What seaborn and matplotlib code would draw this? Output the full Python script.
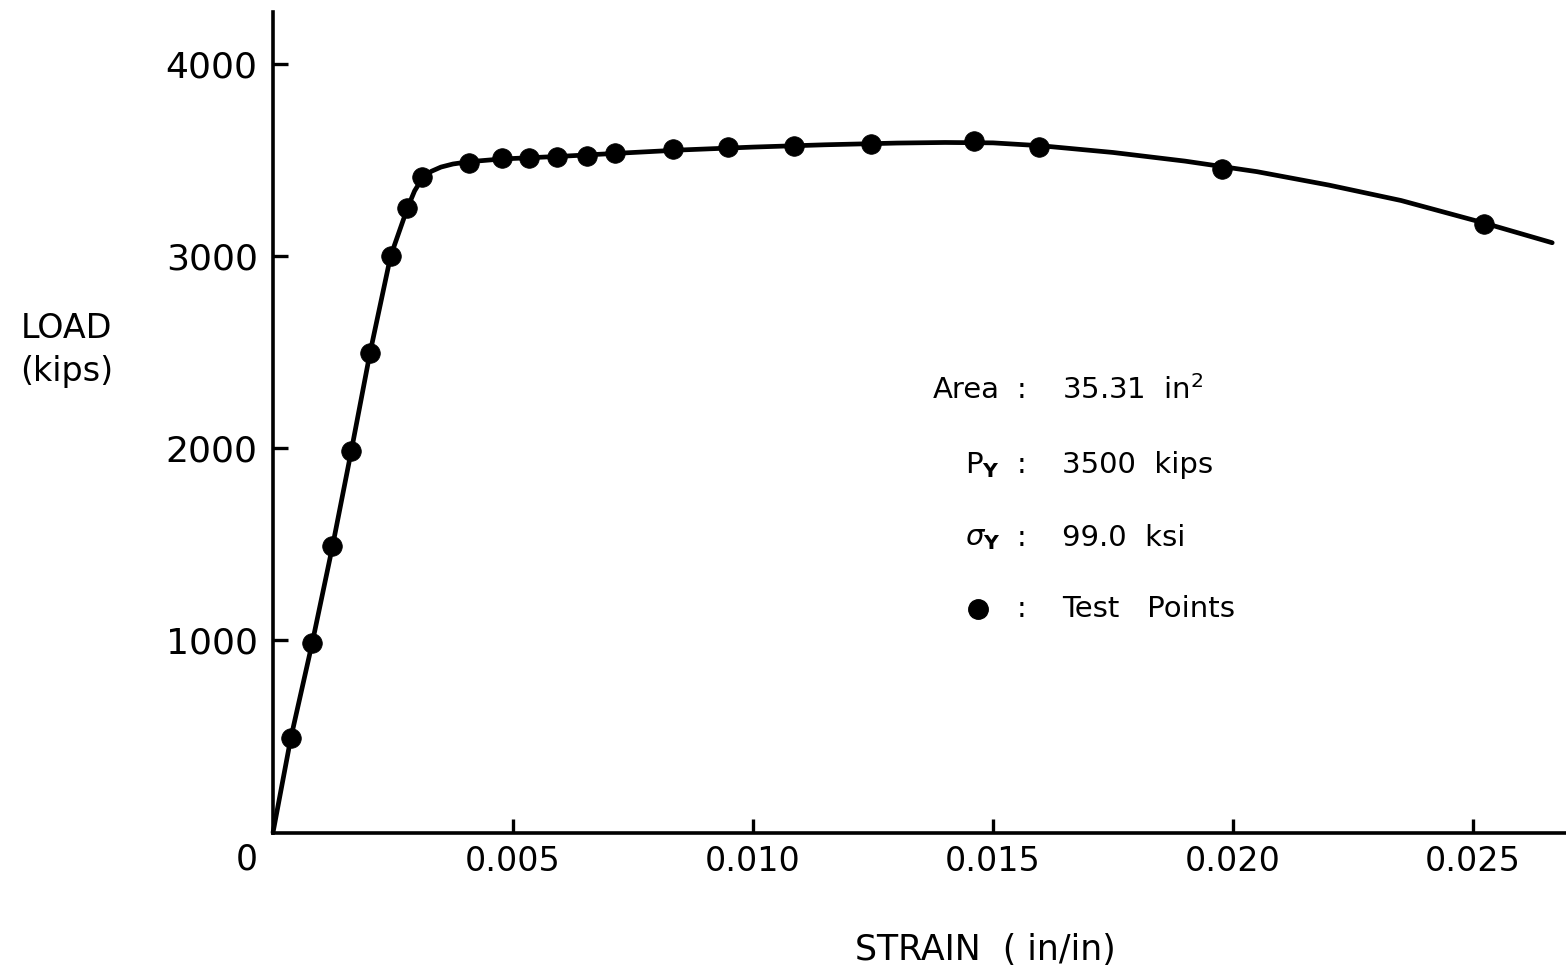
import matplotlib
matplotlib.use("Agg")
import matplotlib.pyplot as plt
import seaborn as sns
import pandas as pd

# ---- data ----
curve_strain = [0.0, 0.00037, 0.00082, 0.00124, 0.00163, 0.00202, 0.00245, 0.00280,
                0.00295, 0.00311, 0.00330, 0.00350, 0.00375, 0.00409, 0.00476, 0.00600,
                0.00720, 0.00850, 0.01000, 0.01150, 0.01300, 0.01400, 0.01500, 0.01600,
                0.01750, 0.01900, 0.02050, 0.02200, 0.02350, 0.02520, 0.02665]
curve_load = [0, 490, 990, 1490, 1985, 2495, 3000, 3250,
              3340, 3405, 3442, 3464, 3480, 3492, 3506, 3520,
              3536, 3553, 3568, 3580, 3589, 3592, 3590, 3575,
              3540, 3495, 3440, 3370, 3290, 3175, 3070]

test_strain = [0.000369, 0.000819, 0.001235, 0.001625, 0.00202, 0.002452, 0.002798,
               0.00311, 0.00409, 0.004764, 0.005325, 0.005919, 0.006552, 0.007125,
               0.008323, 0.009477, 0.010846, 0.012467, 0.01461, 0.015965, 0.01977, 0.02522]
test_load = [490, 988, 1493, 1986, 2494, 3001, 3249,
             3411, 3487, 3510, 3512, 3516, 3523, 3536,
             3556, 3566, 3576, 3582, 3600, 3570, 3455, 3170]

x_ticks = [0.005, 0.010, 0.015, 0.020, 0.025]
x_tick_labels = ["0.005", "0.010", "0.015", "0.020", "0.025"]
y_ticks = [1000, 2000, 3000, 4000]
y_tick_labels = ["1000", "2000", "3000", "4000"]

info_labels = ["Area", r"P$_{\mathbf{Y}}$", r"$\sigma_{\mathbf{Y}}$"]
info_values = [r"35.31  in$^{2}$", "3500  kips", "99.0  ksi"]
legend_text = "Test   Points"

# ---- styling ----
sns.set_style("ticks")
plt.rcParams["font.family"] = ["DejaVu Sans"]
plt.rcParams["mathtext.fontset"] = "dejavusans"
plt.rcParams["text.color"] = "black"

W, H = 1566, 971
fig = plt.figure(figsize=(W / 100, H / 100), dpi=100)
fig.patch.set_facecolor("white")

def fx(px):
    return px / W

def fy(py):
    return 1 - py / H

ax = fig.add_axes([fx(273), fy(832.5), fx(1566 - 273), (832.5 - 12) / H])
ax.set_facecolor("white")

curve_df = pd.DataFrame({"strain": curve_strain, "load": curve_load})
pts_df = pd.DataFrame({"strain": test_strain, "load": test_load})

sns.lineplot(data=curve_df, x="strain", y="load", sort=False, estimator=None,
             color="black", linewidth=3.4, ax=ax, clip_on=False)
sns.scatterplot(data=pts_df, x="strain", y="load", color="black", s=200,
                edgecolor="black", linewidth=0.5, ax=ax, zorder=5, clip_on=False)

ax.set_xlim(0, (1566 - 273) / 48000)
ax.set_ylim(0, (832.5 - 12) / 0.1921)

for side in ["top", "right"]:
    ax.spines[side].set_visible(False)
for side in ["left", "bottom"]:
    ax.spines[side].set_linewidth(2.6)
    ax.spines[side].set_color("black")

ax.set_xticks(x_ticks)
ax.set_xticklabels(x_tick_labels, fontsize=24, color="black")
ax.set_yticks(y_ticks)
ax.set_yticklabels(y_tick_labels, fontsize=26, color="black")
ax.tick_params(axis="x", which="major", bottom=True, direction="in", length=10,
               width=2.4, pad=9, colors="black")
ax.tick_params(axis="y", which="major", left=True, direction="in", length=11,
               width=2.4, pad=11, colors="black")

ax.set_xlabel("")
ax.set_ylabel("")

# origin label
fig.text(fx(247), fy(859), "0", fontsize=25, ha="center", va="center", color="black")

# axis titles
fig.text(fx(67), fy(329), "LOAD", fontsize=24, ha="center", va="center", color="black")
fig.text(fx(67), fy(372), "(kips)", fontsize=24, ha="center", va="center", color="black")
fig.text(fx(985), fy(950), "STRAIN  ( in/in)", fontsize=25, ha="center", va="center",
         color="black")

# info block
rows_y = [390, 465, 538]
for lab, val, y in zip(info_labels, info_values, rows_y):
    fig.text(fx(1000), fy(y), lab, fontsize=21, ha="right", va="center", color="black")
    fig.text(fx(1022), fy(y), ":", fontsize=21, ha="center", va="center", color="black")
    fig.text(fx(1062), fy(y), val, fontsize=21, ha="left", va="center", color="black")

# legend row
leg_y = 609
fig.add_artist(plt.Line2D([fx(978)], [fy(leg_y)], marker="o", markersize=14,
                          color="black", transform=fig.transFigure))
fig.text(fx(1022), fy(leg_y), ":", fontsize=21, ha="center", va="center", color="black")
fig.text(fx(1062), fy(leg_y), legend_text, fontsize=21, ha="left", va="center",
         color="black")

fig.savefig("out.png", dpi=100, facecolor="white")
